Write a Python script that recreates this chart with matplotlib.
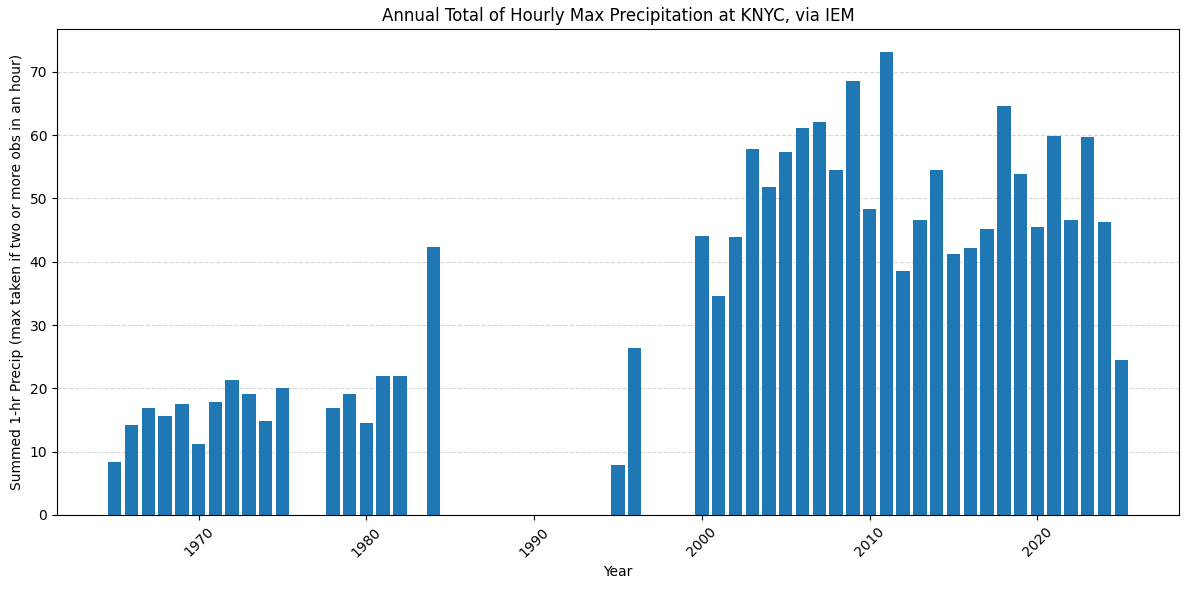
import numpy as np
import matplotlib
matplotlib.use("Agg")
import matplotlib.pyplot as plt

# Annual totals
years = [1965, 1966, 1967, 1968, 1969, 1970, 1971, 1972, 1973, 1974, 1975,
         1978, 1979, 1980, 1981, 1982, 1984,
         1995, 1996,
         2000, 2001, 2002, 2003, 2004, 2005, 2006, 2007, 2008, 2009,
         2010, 2011, 2012, 2013, 2014, 2015, 2016, 2017, 2018, 2019,
         2020, 2021, 2022, 2023, 2024, 2025]
precip = [8.4, 14.2, 16.9, 15.6, 17.5, 11.2, 17.8, 21.3, 19.1, 14.8, 20.0,
          16.9, 19.1, 14.5, 21.9, 21.9, 42.3,
          7.9, 26.3,
          44.0, 34.6, 43.9, 57.8, 51.8, 57.3, 61.1, 62.0, 54.5, 68.5,
          48.3, 73.1, 38.5, 46.6, 54.5, 41.2, 42.2, 45.2, 64.6, 53.8,
          45.5, 59.8, 46.6, 59.7, 46.3, 24.5]

fig, ax = plt.subplots(figsize=(11.89, 5.89), dpi=100)
ax.bar(years, precip, color='#1f77b4')
ax.set_title('Annual Total of Hourly Max Precipitation at KNYC, via IEM')
ax.set_xlabel('Year')
ax.set_ylabel('Summed 1-hr Precip (max taken if two or more obs in an hour)')
ax.grid(axis='y', linestyle='--', alpha=0.5)
ax.set_axisbelow(True)
plt.xticks(rotation=45)
# axes box placed to match the reference
fig.subplots_adjust(left=57/1189, right=1179/1189, top=1 - 29/589, bottom=1 - 515/589)
plt.savefig('out.png')
